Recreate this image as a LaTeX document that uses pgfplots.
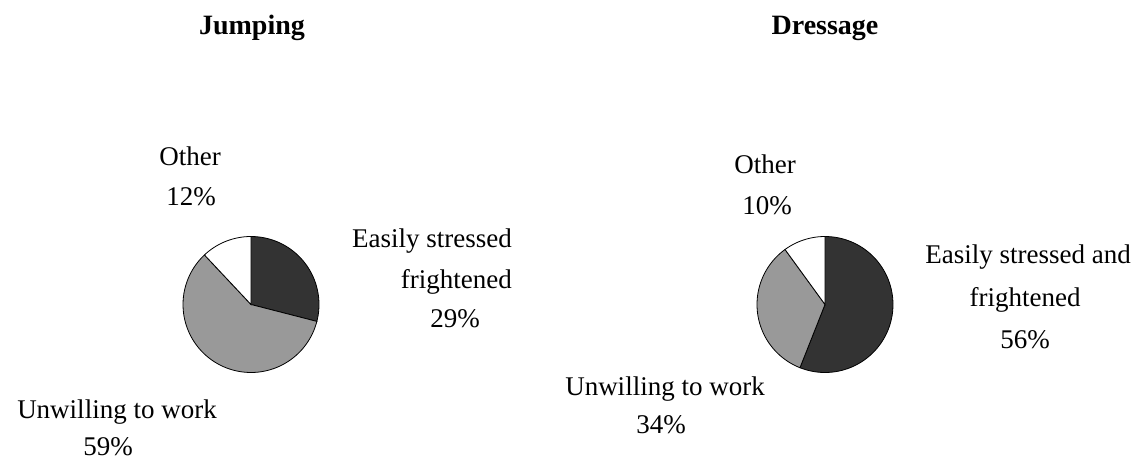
\documentclass[border=0pt]{standalone}
\usepackage{pgfplots}
\pgfplotsset{compat=1.18}
\usepgfplotslibrary{polar}
\usepackage{fontspec}
\setmainfont{Liberation Serif}
\definecolor{darkslice}{HTML}{333333}
\definecolor{grayslice}{HTML}{999999}
% Jumping: Easily stressed / Unwilling / Other (percent)
\def\jA{29}\def\jB{59}\def\jC{12}
% Dressage
\def\dA{56}\def\dB{34}\def\dC{10}
\begin{document}
\begin{tikzpicture}[x=1pt,y=1pt]
\path[use as bounding box] (0,0) rectangle (1141,459);
\pgfplotsset{pieaxis/.style={hide axis, width=136pt, height=136pt, scale only axis,
  ymin=0, ymax=1, clip=false, anchor=center}}
\pgfmathsetmacro\jaEnd{90-3.6*\jA}
\pgfmathsetmacro\jbEnd{\jaEnd-3.6*\jB}
\pgfmathsetmacro\jcEnd{\jbEnd-3.6*\jC}
\pgfmathsetmacro\daEnd{90-3.6*\dA}
\pgfmathsetmacro\dbEnd{\daEnd-3.6*\dB}
\pgfmathsetmacro\dcEnd{\dbEnd-3.6*\dC}
\begin{polaraxis}[pieaxis, at={(251pt,154.5pt)}]
\addplot[fill=darkslice, draw=black, line width=0.8pt, domain=\jaEnd:90, samples=60] {1} -- (axis cs:0,0) -- cycle;
\addplot[fill=grayslice, draw=black, line width=0.8pt, domain=\jbEnd:\jaEnd, samples=80] {1} -- (axis cs:0,0) -- cycle;
\addplot[fill=white, draw=black, line width=0.8pt, domain=\jcEnd:\jbEnd, samples=30] {1} -- (axis cs:0,0) -- cycle;
\end{polaraxis}
\begin{polaraxis}[pieaxis, at={(825pt,154.5pt)}]
\addplot[fill=darkslice, draw=black, line width=0.8pt, domain=\daEnd:90, samples=80] {1} -- (axis cs:0,0) -- cycle;
\addplot[fill=grayslice, draw=black, line width=0.8pt, domain=\dbEnd:\daEnd, samples=60] {1} -- (axis cs:0,0) -- cycle;
\addplot[fill=white, draw=black, line width=0.8pt, domain=\dcEnd:\dbEnd, samples=30] {1} -- (axis cs:0,0) -- cycle;
\end{polaraxis}
\tikzset{lbl/.style={anchor=base, inner sep=0pt, font=\fontsize{27}{30}\selectfont},
         ttl/.style={anchor=base, inner sep=0pt, font=\bfseries\fontsize{28}{30}\selectfont}}
% titles
\node[ttl] at (252,424) {Jumping};
\node[ttl] at (825,424) {Dressage};
% Jumping labels
\node[lbl] at (190,294) {Other};
\node[lbl] at (191,254) {12\%};
\node[lbl, anchor=base east] at (512,212) {Easily stressed};
\node[lbl, anchor=base east] at (512,171) {frightened};
\node[lbl] at (455,132) {29\%};
\node[lbl] at (117,41) {Unwilling to work};
\node[lbl] at (108,4) {59\%};
% Dressage labels
\node[lbl] at (765,286) {Other};
\node[lbl] at (767,245) {10\%};
\node[lbl] at (1028,196) {Easily stressed and};
\node[lbl] at (1025,153) {frightened};
\node[lbl] at (1025,111) {56\%};
\node[lbl] at (665,64) {Unwilling to work};
\node[lbl] at (661,26) {34\%};
\end{tikzpicture}
\end{document}
